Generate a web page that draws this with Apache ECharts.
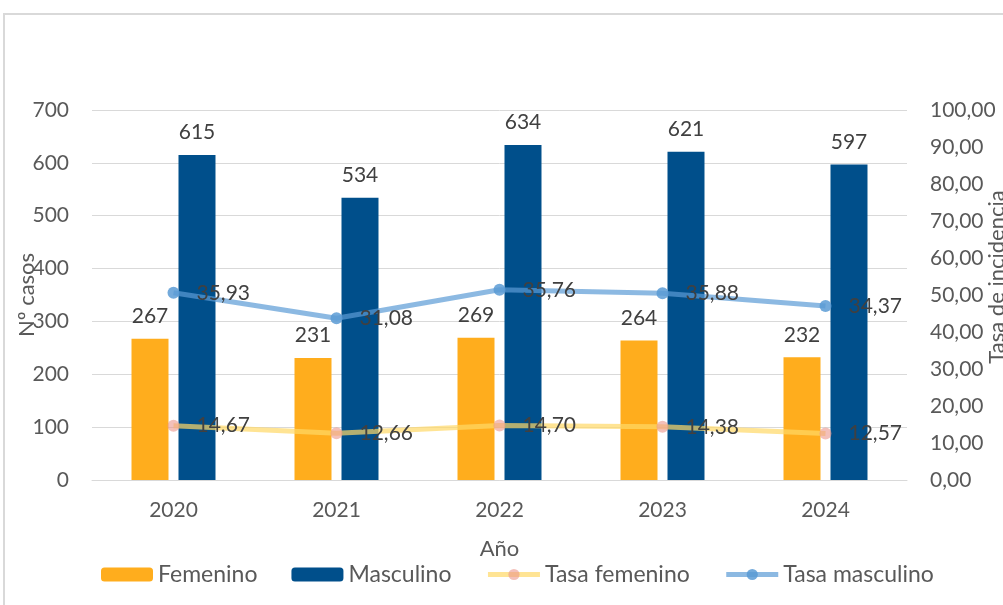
<!DOCTYPE html>
<html>
<head>
<meta charset="utf-8">
<script src="https://cdn.jsdelivr.net/npm/echarts@6/dist/echarts.min.js"></script>
<style>
  html, body { margin: 0; padding: 0; background: #fff; }
  #chart { width: 1003px; height: 605px; }
</style>
</head>
<body>
<div id="chart"></div>
<script>
// datos
const years = ['2020', '2021', '2022', '2023', '2024'];
const femenino = [267, 231, 269, 264, 232];
const masculino = [615, 534, 634, 621, 597];
const tasaFemenino = [14.67, 12.66, 14.70, 14.38, 12.57];
// la linea masculina aparece dibujada mas arriba que su etiqueta
const tasaMasculinoPlot = [50.6, 43.7, 51.4, 50.5, 47.0];
const tasaMasculinoLabel = ['35,93', '31,08', '35,76', '35,88', '34,37'];

const fontFam = 'Lato, "Open Sans", sans-serif';
const grey = '#595959';
const dark = '#404040';

const fmt2 = v => v.toFixed(2).replace('.', ',');

const chart = echarts.init(document.getElementById('chart'));

const option = {
    animation: false,
    textStyle: { fontFamily: fontFam },
    grid: { left: 92, right: 96, top: 110, bottom: 125, containLabel: false, outerBoundsMode: 'none' },
    legend: {
        left: 101,
        top: 563,
        padding: 0,
        itemWidth: 52,
        itemHeight: 14,
        itemGap: 34,
        textStyle: { fontSize: 23, color: grey, fontFamily: fontFam },
        data: [
            { name: 'Femenino' },
            { name: 'Masculino' },
            { name: 'Tasa femenino', lineStyle: { width: 5 } },
            { name: 'Tasa masculino', lineStyle: { width: 5 } }
        ]
    },
    graphic: [{
        type: 'rect',
        shape: { x: 4, y: 14, width: 1020, height: 620 },
        style: { fill: 'none', stroke: '#d9d9d9', lineWidth: 2 },
        silent: true
    }],
    xAxis: {
        type: 'category',
        data: years,
        name: 'Año',
        nameLocation: 'middle',
        nameGap: 58,
        nameTextStyle: { fontSize: 22, color: grey },
        axisLine: { lineStyle: { color: '#d9d9d9' } },
        axisTick: { show: false },
        axisLabel: { fontSize: 21, color: grey, margin: 20 }
    },
    yAxis: [{
        type: 'value',
        min: 0,
        max: 700,
        interval: 100,
        name: 'Nº casos',
        nameLocation: 'middle',
        nameRotate: 90,
        nameGap: 54,
        nameMoveOverlap: false,
        nameTextStyle: { fontSize: 22, color: grey },
        axisLabel: { fontSize: 21, color: grey, margin: 23 },
        splitLine: { lineStyle: { color: '#d9d9d9' } }
    }, {
        type: 'value',
        min: 0,
        max: 100,
        interval: 10,
        name: 'Tasa de incidencia',
        nameLocation: 'middle',
        nameRotate: 90,
        nameGap: 79,
        nameMoveOverlap: false,
        nameTextStyle: { fontSize: 22, color: grey, padding: [0, 0, 0, 36] },
        axisLabel: { fontSize: 21, color: grey, margin: 23, formatter: fmt2 },
        splitLine: { show: false }
    }],
    series: [{
        name: 'Femenino',
        type: 'bar',
        data: femenino,
        barWidth: 37,
        barGap: '27%',
        itemStyle: { color: '#FFAD1D' },
        label: { show: true, position: 'top', distance: 12, fontSize: 21, color: dark }
    }, {
        name: 'Masculino',
        type: 'bar',
        data: masculino,
        barWidth: 37,
        itemStyle: { color: '#004F8B' },
        label: { show: true, position: 'top', distance: 12, fontSize: 21, color: dark }
    }, {
        name: 'Tasa femenino',
        type: 'line',
        yAxisIndex: 1,
        data: tasaFemenino,
        symbol: 'circle',
        symbolSize: 12,
        z: 5,
        lineStyle: { color: '#FFD966', width: 5, opacity: 0.7 },
        itemStyle: { color: 'rgba(235,150,140,0.6)' },
        label: { show: true, position: 'right', distance: 17, fontSize: 21, color: dark, formatter: p => fmt2(p.value) }
    }, {
        name: 'Tasa masculino',
        type: 'line',
        yAxisIndex: 1,
        data: tasaMasculinoPlot,
        symbol: 'circle',
        symbolSize: 12,
        z: 5,
        lineStyle: { color: '#5B9BD5', width: 5, opacity: 0.7 },
        itemStyle: { color: 'rgba(91,155,213,0.85)' },
        label: { show: true, position: 'right', distance: 17, fontSize: 21, color: dark, formatter: p => tasaMasculinoLabel[p.dataIndex] }
    }]
};

chart.setOption(option);
</script>
</body>
</html>
